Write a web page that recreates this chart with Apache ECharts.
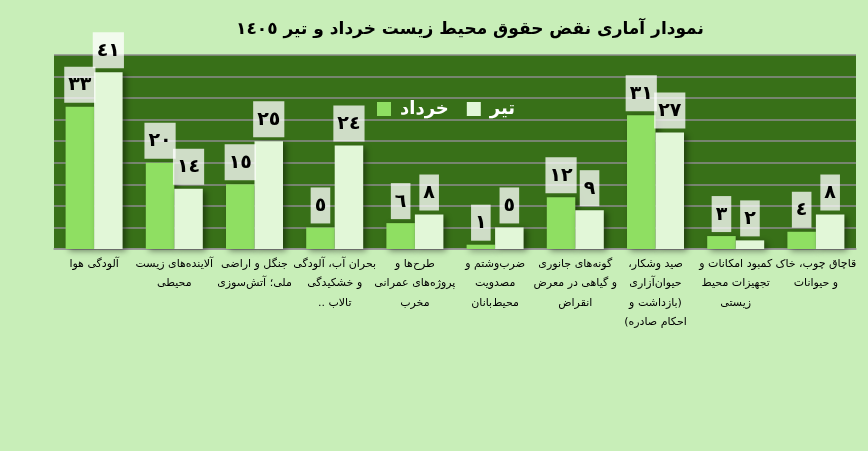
<!DOCTYPE html>
<html>
<head>
<meta charset="utf-8">
<script src="https://cdn.jsdelivr.net/npm/echarts@6/dist/echarts.min.js"></script>
<style>
html,body{margin:0;padding:0;background:#c8eeb8;}
#chart{width:868px;height:451px;}
</style>
</head>
<body>
<div id="chart" dir="rtl"></div>
<script>
var categories = [
  'آلودگی هوا',
  'آلاینده\u200cهای زیست\nمحیطی',
  'جنگل و اراضی\nملی؛ آتش\u200cسوزی',
  'بحران آب، آلودگی\nو خشکیدگی\nتالاب ..',
  'طرح\u200cها و\nپروژه\u200cهای عمرانی\nمخرب',
  'ضرب\u200cوشتم و\nمصدویت\nمحیط\u200cبانان',
  'گونه\u200cهای جانوری\nو گیاهی در معرض\nانقراض',
  'صید وشکار،\nحیوان\u200cآزاری\n(بازداشت و\nاحکام صادره)',
  'کمبود امکانات و\nتجهیزات محیط\nزیستی',
  'قاچاق چوب، خاک\nو حیوانات'
];
var khordad = [33, 20, 15, 5, 6, 1, 12, 31, 3, 4];
var tir = [41, 14, 25, 24, 8, 5, 9, 27, 2, 8];
var seriesNames = ['خرداد', 'تیر'];
var titleText = 'نمودار آماری نقض حقوق محیط زیست خرداد و تیر ١٤٠٥';

var digits = '٠١٢٣٤٥٦٧٨٩';
function toFa(n){ return String(n).replace(/[0-9]/g, function(d){ return digits[+d]; }); }

var font = "'DejaVu Sans', 'Noto Sans', sans-serif";
var labelOpt = {
  show: true,
  position: 'top',
  distance: 4,
  backgroundColor: 'rgba(255,255,255,0.76)',
  padding: [9, 4, 8, 4],
  color: '#000',
  fontSize: 19,
  fontWeight: 'bold',
  fontFamily: font,
  formatter: function(p){ return toFa(p.value); }
};
var shadow = { shadowColor: 'rgba(0,0,0,0.45)', shadowBlur: 6, shadowOffsetX: 3, shadowOffsetY: 2 };

var chart = echarts.init(document.getElementById('chart'));
chart.setOption({
  backgroundColor: '#c8eeb8',
  animation: false,
  title: {
    text: titleText,
    left: 465,
    top: 16,
    textAlign: 'center',
    textStyle: { color: '#000', fontSize: 17, fontWeight: 'bold', fontFamily: font }
  },
  legend: {
    data: seriesNames,
    left: 372,
    top: 95,
    itemWidth: 14,
    itemHeight: 14,
    itemGap: 18,
    icon: 'rect',
    textStyle: { color: '#fff', fontSize: 18, fontWeight: 'bold', fontFamily: font, padding: [0, 0, 0, 4] }
  },
  grid: {
    left: 54, right: 12, top: 55, bottom: 202,
    show: true, backgroundColor: '#387018', borderWidth: 0,
    containLabel: false
  },
  xAxis: {
    type: 'category',
    data: categories,
    axisTick: { show: false },
    axisLine: { show: true, lineStyle: { color: '#9a9a9a', width: 1.5 } },
    axisLabel: {
      interval: 0,
      color: '#000',
      fontSize: 11,
      fontFamily: font,
      lineHeight: 19.5,
      margin: 5,
      verticalAlign: 'top'
    }
  },
  yAxis: {
    type: 'value',
    min: 0, max: 45, interval: 5,
    axisLabel: { show: false },
    axisLine: { show: false },
    axisTick: { show: false },
    splitLine: { lineStyle: { color: '#8c8c8c', width: 1.5 } }
  },
  series: [
    {
      name: seriesNames[0], type: 'bar', data: khordad,
      barWidth: 28.5, barGap: '0%',
      itemStyle: Object.assign({ color: '#8fdf62' }, shadow),
      label: labelOpt
    },
    {
      name: seriesNames[1], type: 'bar', data: tir,
      barWidth: 28.5, barGap: '0%',
      itemStyle: Object.assign({ color: '#e2f7d8' }, shadow),
      label: labelOpt
    }
  ]
});
</script>
</body>
</html>
